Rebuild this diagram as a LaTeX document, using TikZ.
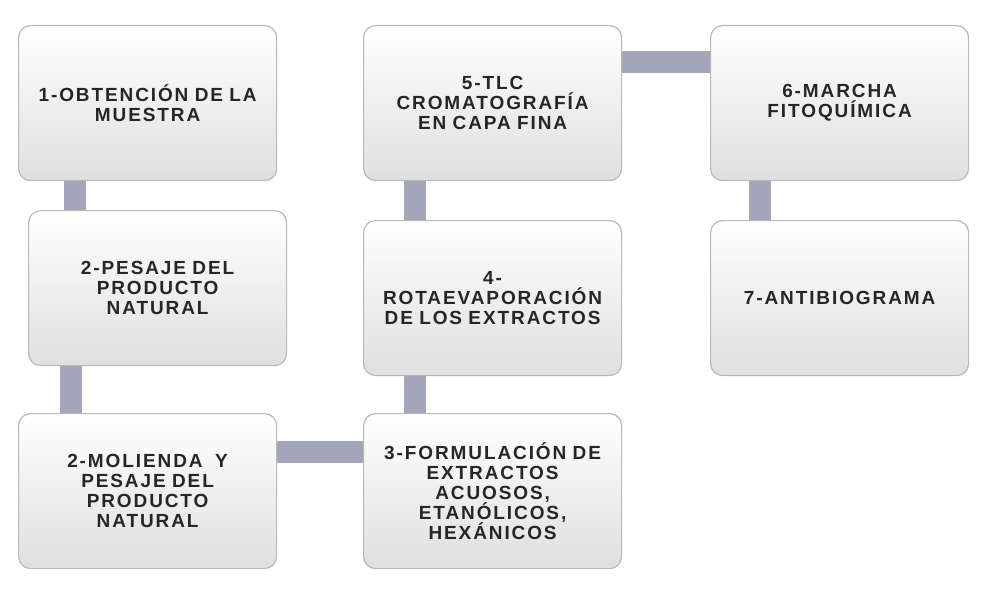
\documentclass[tikz,border=0pt]{standalone}
\usepackage{fontspec}
\setmainfont{Liberation Sans}
\newfontfamily\boxfont[LetterSpace=10]{Liberation Sans}
\definecolor{bar}{HTML}{A3A6B8}
\begin{document}
\begin{tikzpicture}[x=1pt,y=-1pt,
 box/.style={draw=gray!55,line width=1.2pt,rounded corners=12pt,top color=white,bottom color=gray!25,
  minimum width=258pt,minimum height=155pt,anchor=north west,align=center,
  font=\boxfont\bfseries\fontsize{19}{20}\selectfont,text width=250pt,text=black!85},
 conn/.style={bar,line width=20pt}]
\useasboundingbox (0,0) rectangle (984,604);
\fill[bar] (64,178) rectangle (86,212);
\fill[bar] (60,363) rectangle (82,415);
\fill[bar] (276,441) rectangle (365,463);
\fill[bar] (404,373) rectangle (426,415);
\fill[bar] (404,178) rectangle (426,222);
\fill[bar] (618,51) rectangle (712,73);
\fill[bar] (749,178) rectangle (771,222);
\node[box] (a) at (18,25) {1-OBTENCIÓN DE LA\\MUESTRA};
\node[box] (b) at (28,210) {2-PESAJE DEL\\PRODUCTO\\NATURAL};
\node[box] (c) at (18,413) {2-MOLIENDA\ \ Y\\PESAJE DEL\\PRODUCTO\\NATURAL};
\node[box] (d) at (363,413) {3-FORMULACIÓN DE\\EXTRACTOS\\ACUOSOS,\\ETANÓLICOS,\\HEXÁNICOS};
\node[box] (e) at (363,220) {4-\\ROTAEVAPORACIÓN\\DE LOS EXTRACTOS};
\node[box] (f) at (363,25) {5-TLC\\CROMATOGRAFÍA\\EN CAPA FINA};
\node[box] (g) at (710,25) {6-MARCHA\\FITOQUÍMICA};
\node[box] (h) at (710,220) {7-ANTIBIOGRAMA};
\end{tikzpicture}
\end{document}
